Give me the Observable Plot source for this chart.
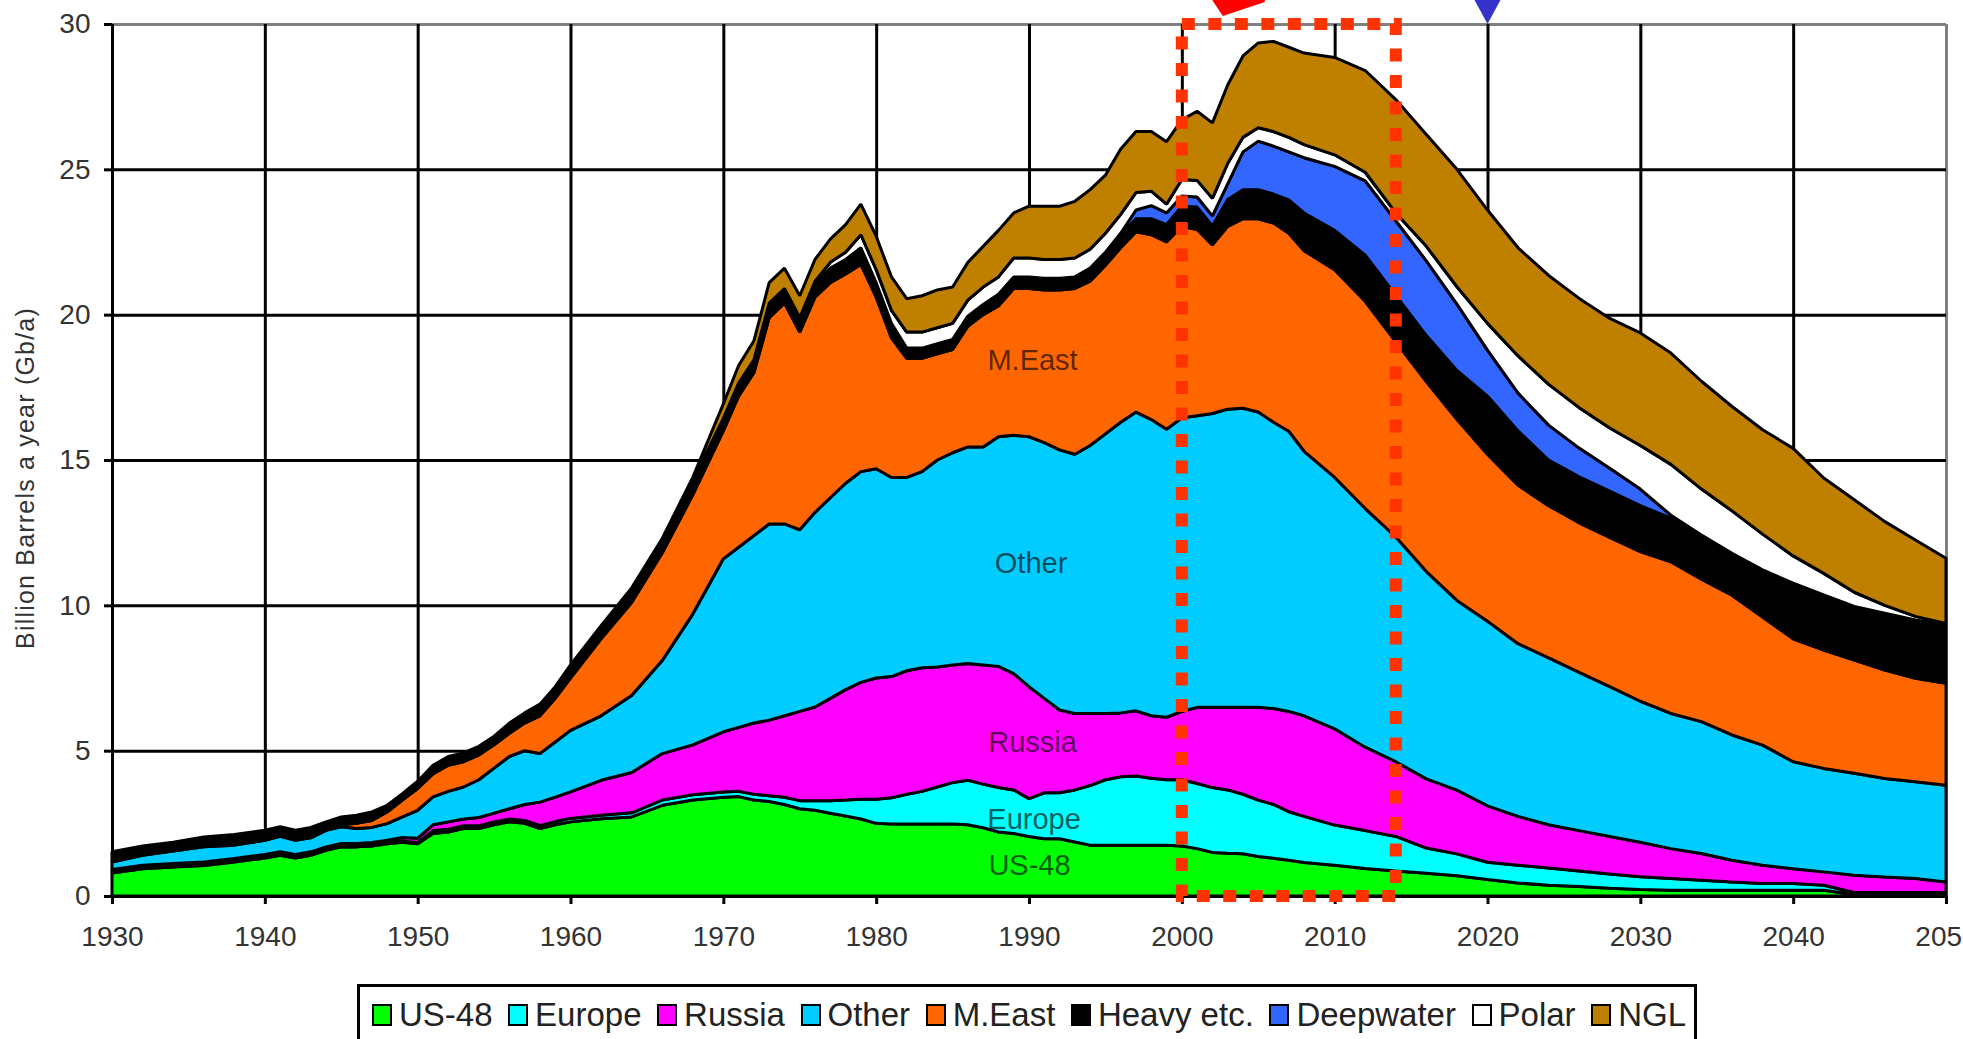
<!DOCTYPE html>
<html>
<head>
<meta charset="utf-8">
<script src="https://cdn.jsdelivr.net/npm/d3@7"></script>
<script src="https://cdn.jsdelivr.net/npm/@observablehq/plot@0.6"></script>
<style>
  html, body { margin: 0; padding: 0; background: #fff; }
  body { font-family: "Liberation Sans", Arial, sans-serif; }
  #wrap { position: relative; width: 1963px; height: 1039px; overflow: hidden; background: #fff; }
  #chart { position: absolute; left: 0; top: 0; }
  #ylabel { position: absolute; left: 25px; top: 478px; transform: translate(-50%, -50%) rotate(-90deg);
            white-space: nowrap; font-size: 25px; letter-spacing: 1.2px; color: #333; }
  #legend { position: absolute; left: 357px; top: 984px; width: 1340px; height: 62px; box-sizing: border-box;
            border: 3px solid #000; display: flex; justify-content: space-between; align-items: center;
            padding: 0 8px 0 12px; font-size: 33px; color: #222; background: #fff; }
  #legend .it { display: flex; align-items: center; white-space: nowrap; }
  #legend .sw { display: inline-block; width: 20px; height: 22px; box-sizing: border-box; border: 2px solid #000; margin-right: 7px; }
  svg [aria-label^="x-axis"] line, svg [aria-label^="y-axis"] line,
  svg [aria-label^="x-axis tick"] path, svg [aria-label^="y-axis tick"] path { stroke: #000 !important; stroke-width: 3px !important; }
  svg [aria-label^="x-axis"] text, svg [aria-label^="y-axis"] text { font-size: 28px; fill: #333; }
</style>
</head>
<body>
<div id="wrap">
  <div id="chart"></div>
  <div id="ylabel">Billion Barrels a year (Gb/a)</div>
  <div id="legend"></div>
</div>
<script>
// ---- data ----
const years = [1930,1932,1934,1936,1938,1940,
  1941,1942,1943,1944,1945,1946,1947,1948,1949,1950,
  1951,1952,1953,1954,1955,1956,1957,1958,1959,1960,
  1962,1964,1966,1968,
  1970,1971,1972,1973,1974,1975,1976,1977,1978,1979,
  1980,1981,1982,1983,1984,1985,1986,1987,1988,1989,
  1990,1991,1992,1993,1994,1995,1996,1997,1998,1999,
  2000,2001,2002,2003,2004,2005,2006,2007,2008,
  2010,2012,2014,2016,2018,2020,2022,2024,2026,2028,2030,2032,2034,2036,2038,2040,2042,2044,2046,2048,2050];

const us48 = [.79,.94,1.00,1.05,1.17,1.31,
  1.40,1.31,1.40,1.57,1.69,1.69,1.72,1.80,1.85,1.80,
  2.15,2.20,2.32,2.32,2.45,2.55,2.50,2.32,2.45,2.55,
  2.66,2.72,3.12,3.30,
  3.40,3.42,3.30,3.25,3.15,3.00,2.95,2.85,2.75,2.65,
  2.50,2.48,2.48,2.48,2.48,2.48,2.45,2.35,2.20,2.15,
  2.05,1.97,1.97,1.86,1.75,1.75,1.75,1.75,1.75,1.75,
  1.72,1.63,1.50,1.47,1.45,1.36,1.30,1.23,1.15,
  1.06,.95,.86,.78,.70,.57,.45,.37,.33,.27,.22,.20,.20,.20,.20,.20,.20,.05,.05,.05,.05];

const europe = [.04,.04,.04,.04,.04,.04,
  .04,.04,.04,.04,.04,.04,.04,.04,.04,.04,
  .10,.10,.10,.10,.10,.10,.10,.11,.11,.12,
  .12,.14,.18,.18,
  .18,.18,.20,.20,.25,.28,.33,.43,.55,.68,
  .83,.90,1.02,1.12,1.27,1.42,1.53,1.50,1.53,1.50,
  1.30,1.58,1.58,1.79,2.05,2.25,2.35,2.38,2.30,2.25,
  2.28,2.24,2.23,2.18,2.05,1.94,1.85,1.67,1.59,
  1.38,1.30,1.19,.87,.75,.59,.61,.59,.53,.49,.44,.40,.34,.28,.23,.23,.17,.07,.07,.07,.07];

const russia = [.08,.08,.08,.08,.08,.08,
  .08,.08,.08,.08,.08,.08,.08,.08,.12,.15,
  .20,.25,.23,.28,.30,.35,.55,.80,.84,.91,
  1.20,1.39,1.60,1.72,
  2.07,2.20,2.45,2.60,2.80,3.07,3.22,3.52,3.80,4.02,
  4.17,4.17,4.25,4.25,4.13,4.05,4.02,4.10,4.17,4.00,
  3.85,3.25,2.85,2.63,2.48,2.28,2.20,2.24,2.15,2.15,
  2.35,2.62,2.76,2.84,2.99,3.19,3.30,3.45,3.46,
  3.31,2.87,2.57,2.38,2.19,1.94,1.68,1.49,1.39,1.29,1.19,1.03,.92,.75,.63,.51,.46,.59,.53,.48,.36];

const other = [.26,.34,.43,.52,.46,.49,
  .53,.49,.48,.57,.57,.51,.52,.57,.71,.96,
  .96,1.05,1.10,1.30,1.55,1.80,1.85,1.67,1.90,2.12,
  2.22,2.65,3.20,4.50,
  5.95,6.20,6.45,6.75,6.60,6.25,6.70,6.90,7.10,7.25,
  7.20,6.85,6.65,6.75,7.12,7.30,7.45,7.50,7.90,8.20,
  8.60,8.80,8.95,8.92,9.22,9.62,10.00,10.28,10.19,9.91,
  10.10,10.03,10.11,10.26,10.29,10.16,9.85,9.64,9.10,
  8.65,8.21,7.73,7.13,6.53,6.35,5.94,5.74,5.44,5.15,4.85,4.65,4.54,4.31,4.13,3.68,3.56,3.51,3.39,3.33,3.33];

const meast = [.05,.05,.05,.05,.05,.05,
  .05,.05,.05,.06,.07,.18,.24,.40,.58,.75,
  .79,.90,.87,.85,.80,.80,.95,1.30,1.50,1.80,
  2.65,3.20,3.70,4.10,
  4.40,5.20,5.60,7.10,7.60,6.80,7.40,7.40,7.20,7.13,
  5.90,4.80,4.10,3.90,3.65,3.55,4.15,4.55,4.50,5.05,
  5.10,5.25,5.50,5.70,5.65,5.80,6.00,6.20,6.36,6.44,
  6.59,6.41,5.80,6.29,6.52,6.65,6.85,6.81,6.90,
  7.15,7.13,6.72,6.54,6.23,5.75,5.45,5.24,5.15,5.14,5.15,5.22,4.90,4.81,4.41,4.23,4.07,3.90,3.73,3.56,3.51];

const heavy = [.23,.20,.18,.22,.25,.22,
  .21,.22,.24,.16,.20,.21,.22,.16,.15,.18,
  .20,.20,.20,.20,.20,.25,.25,.30,.30,.35,
  .33,.38,.38,.48,
  .40,.40,.40,.45,.45,.45,.45,.50,.50,.57,
  .50,.50,.35,.35,.35,.35,.35,.35,.40,.40,
  .40,.40,.40,.40,.45,.45,.45,.45,.55,.60,
  .69,.77,.65,.92,1.00,1.00,1.00,1.15,1.30,
  1.35,1.59,1.59,1.58,1.68,2.00,1.87,1.57,1.58,1.59,1.58,1.50,1.47,1.40,1.59,1.89,1.88,1.82,1.94,1.99,1.98];

const deepwater = [0,0,0,0,0,0,
  0,0,0,0,0,0,0,0,0,0,
  0,0,0,0,0,0,0,0,0,0,
  0,0,0,0,
  0,0,0,0,0,0,0,0,0,0,
  0,0,0,0,0,0,0,0,0,0,
  0,0,0,0,0,0,.05,.30,.45,.40,
  .35,.35,.35,.54,1.30,1.67,1.65,1.65,1.90,
  2.20,2.55,2.57,2.57,2.28,1.58,1.30,1.20,.99,.79,.57,.10,.05,.04,.03,.02,.02,.02,.02,.02,.02];

const polar = [.02,.02,.02,.02,.02,.02,
  .02,.02,.02,.02,.02,.02,.02,.02,.02,.02,
  .02,.02,.02,.02,.02,.02,.02,.02,.02,.02,
  .02,.02,.02,.02,
  .03,.05,.05,.05,.05,.05,.10,.20,.25,.45,
  .45,.45,.55,.55,.55,.55,.55,.60,.60,.65,
  .65,.65,.65,.65,.65,.65,.65,.60,.50,.30,
  .57,.57,.60,.70,.50,.46,.50,.50,.45,
  .40,.30,.27,.50,.60,.92,1.28,1.40,1.39,1.38,1.50,1.75,1.58,1.46,1.23,.94,.74,.49,.27,.12,.06];

const ngl = [.05,.05,.05,.05,.05,.05,
  .05,.05,.05,.05,.05,.05,.05,.05,.05,.05,
  .08,.08,.08,.08,.08,.08,.08,.08,.08,.08,
  .10,.10,.10,.10,
  .50,.60,.65,.70,.70,.75,.75,.80,.95,1.05,
  1.15,1.15,1.15,1.25,1.30,1.25,1.30,1.40,1.60,1.55,
  1.78,1.83,1.83,1.95,2.05,2.00,2.25,2.10,2.05,2.15,
  2.05,2.38,2.60,2.70,2.80,2.92,3.10,3.10,3.15,
  3.35,3.50,3.90,3.85,4.04,3.90,3.72,3.75,3.76,3.77,3.87,3.83,3.71,3.59,3.59,3.70,3.28,3.18,2.88,2.63,2.24];

const seriesNames  = ["US-48","Europe","Russia","Other","M.East","Heavy etc.","Deepwater","Polar","NGL"];
const seriesColors = ["#00ff00","#00ffff","#ff00ff","#00ccff","#ff6600","#000000","#3366ff","#ffffff","#bf8000"];
const seriesValues = [us48, europe, russia, other, meast, heavy, deepwater, polar, ngl];

const xTicks = [1930,1940,1950,1960,1970,1980,1990,2000,2010,2020,2030,2040,2050];
const yTicks = [0,5,10,15,20,25,30];

// in-chart region labels
const labelNames  = ["M.East","Other","Russia","Europe","US-48"];
const labelYears  = [1990.2, 1990.1, 1990.2, 1990.3, 1990.0];
const labelValues = [18.45, 11.45, 5.3, 2.65, 1.07];

// highlighted window and marker
const windowYears = [2000, 2014];
const markerYear = 2020;

// ---- build ----
const rows = seriesNames.flatMap((name, i) =>
  years.map((year, j) => ({series: name, year, value: seriesValues[i][j]})));
const labelRows = labelNames.map((name, i) => ({name, year: labelYears[i], value: labelValues[i]}));
const innerX = xTicks.filter(d => d !== 1930 && d !== 2050);
const innerY = yTicks.filter(d => d !== 0 && d !== 30);

const plot = Plot.plot({
  width: 1963,
  height: 960,
  marginLeft: 112,
  marginRight: 17,
  marginTop: 24,
  marginBottom: 64,
  style: {fontFamily: '"Liberation Sans", Arial, sans-serif', fontSize: "28px", color: "#333", background: "#fff", overflow: "visible"},
  x: {domain: [1930, 2050], ticks: xTicks, tickFormat: d => String(d), tickSize: 8, tickPadding: 22, label: null},
  y: {domain: [0, 30], ticks: yTicks, tickFormat: d => String(d), tickSize: 8, tickPadding: 14, label: null},
  color: {domain: seriesNames, range: seriesColors},
  marks: [
    Plot.ruleY([30], {stroke: "#808080", strokeWidth: 3}),
    Plot.ruleX([2050], {stroke: "#808080", strokeWidth: 3}),
    Plot.ruleX(innerX, {stroke: "#000", strokeWidth: 3}),
    Plot.ruleY(innerY, {stroke: "#000", strokeWidth: 3}),
    Plot.ruleX([1930], {stroke: "#000", strokeWidth: 3}),
    Plot.areaY(rows, {x: "year", y: "value", z: "series", fill: "series", order: seriesNames,
                      stroke: "#000", strokeWidth: 3, strokeLinejoin: "miter"}),
    Plot.ruleY([0], {stroke: "#000", strokeWidth: 3}),
    Plot.text(labelRows, {x: "year", y: "value", text: "name", fontSize: 29, fill: "#000", fillOpacity: 0.65}),
    Plot.rect([{x1: windowYears[0], x2: windowYears[1], y1: 0, y2: 30}],
              {x1: "x1", x2: "x2", y1: "y1", y2: "y2", fill: "none", stroke: "#ff3300",
               strokeWidth: 12, strokeDasharray: "13,13.5"})
  ]
});

document.getElementById("chart").appendChild(plot);

// decorations positioned via the plot's scales
const xs = plot.scale("x"), ys = plot.scale("y");
const lin = s => v => s.range[0] + (v - s.domain[0]) / (s.domain[1] - s.domain[0]) * (s.range[1] - s.range[0]);
const fx = xs.apply ? (v => xs.apply(v)) : lin(xs);
const fy = ys.apply ? (v => ys.apply(v)) : lin(ys);
const svg = d3.select(plot);
const mx = fx(markerYear), my = fy(30);
svg.append("polygon")
  .attr("points", `${mx - 13.5},${my - 25} ${mx + 13.5},${my - 25} ${mx},${my}`)
  .attr("fill", "#3333cc");
const ax = fx(windowYears[0]);
svg.append("polygon")
  .attr("points", `${ax + 29},${my - 26} ${ax + 83},${my - 26} ${ax + 83},${my - 22} ${ax + 41},${my - 8} ${ax + 33},${my - 20}`)
  .attr("fill", "#ff0000");

// legend
const legend = document.getElementById("legend");
seriesNames.forEach((name, i) => {
  const it = document.createElement("span");
  it.className = "it";
  const sw = document.createElement("span");
  sw.className = "sw";
  sw.style.background = seriesColors[i];
  it.appendChild(sw);
  it.appendChild(document.createTextNode(name));
  legend.appendChild(it);
});
</script>
</body>
</html>
